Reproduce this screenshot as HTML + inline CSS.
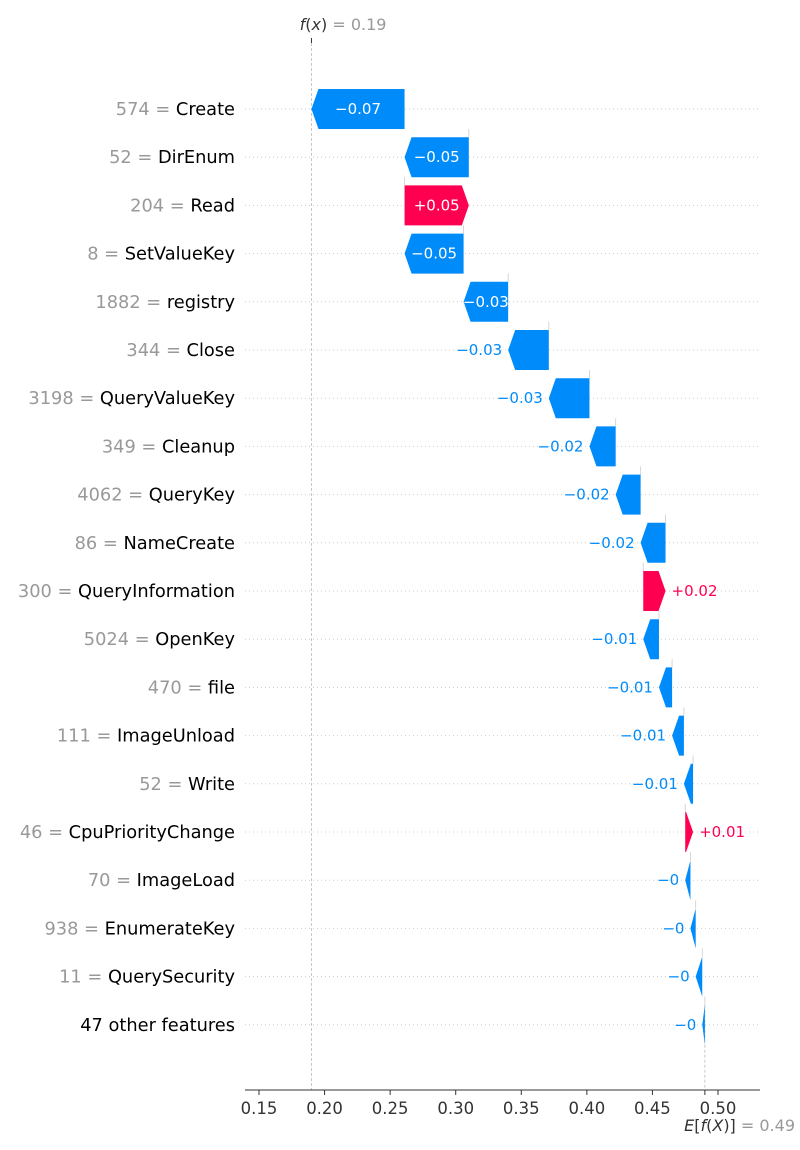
<!DOCTYPE html>
<html><head><meta charset="utf-8"><style>
body{margin:0;background:#fff;}
svg{display:block;font-family:"DejaVu Sans","Liberation Sans",sans-serif;}
</style></head><body>
<svg id="chart" width="800" height="1150" viewBox="0 0 800 1150"></svg>
<script>
const featureValues = ["574","52","204","8","1882","344","3198","349","4062","86","300","5024","470","111","52","46","70","938","11",""];
const featureNames = ["Create","DirEnum","Read","SetValueKey","registry","Close","QueryValueKey","Cleanup","QueryKey","NameCreate","QueryInformation","OpenKey","file","ImageUnload","Write","CpuPriorityChange","ImageLoad","EnumerateKey","QuerySecurity","47 other features"];
const shapValues = [-0.071,-0.049,0.049,-0.045,-0.034,-0.031,-0.031,-0.02,-0.019,-0.019,0.017,-0.012,-0.01,-0.009,-0.007,0.006,-0.004,-0.004,-0.005,-0.002];
const valueLabels = ["\u22120.07","\u22120.05","+0.05","\u22120.05","\u22120.03","\u22120.03","\u22120.03","\u22120.02","\u22120.02","\u22120.02","+0.02","\u22120.01","\u22120.01","\u22120.01","\u22120.01","+0.01","\u22120","\u22120","\u22120","\u22120"];
const baseValue = 0.49;
const fxValue = 0.19;
const xTicks = [0.15,0.20,0.25,0.30,0.35,0.40,0.45,0.50];

const svg = document.getElementById('chart');
const NS = 'http://www.w3.org/2000/svg';
const X = v => 259 + (v - 0.15) * 1311.4;
const Y = i => 109 + i * 48.2;
function mk(tag, attrs, parent){const e=document.createElementNS(NS,tag);for(const k in attrs)e.setAttribute(k,attrs[k]);(parent||svg).appendChild(e);return e;}

featureNames.forEach((n,i)=>{
  const g = mk('line',{x1:245,x2:760,y1:Y(i),y2:Y(i),stroke:'#ccc','stroke-width':1,'stroke-dasharray':'1,3'});
  
  
});
const fxl = mk('line',{x1:X(fxValue),x2:X(fxValue),y1:38,y2:1090,stroke:'#bbb','stroke-width':0.8,'stroke-dasharray':'3,2'});


const el = mk('line',{x1:X(baseValue),x2:X(baseValue),y1:Y(19)-20,y2:1090,stroke:'#bbb','stroke-width':0.8,'stroke-dasharray':'3,2'});



const n = shapValues.length;
let cur = baseValue;
const starts = new Array(n), ends = new Array(n);
for(let i=n-1;i>=0;i--){starts[i]=cur;cur+=shapValues[i];ends[i]=cur;}

for(let i=0;i<n;i++){
  const s=X(starts[i]), e=X(ends[i]), y=Y(i), h=20;
  const pos = shapValues[i]>0;
  const w=Math.abs(e-s), hl=Math.min(7,w);
  const dir = pos?1:-1;
  const pts = [[s,y-h],[e-dir*hl,y-h],[e,y],[e-dir*hl,y+h],[s,y+h]].map(p=>p.join(',')).join(' ');
  const bar = mk('polygon',{points:pts,fill:pos?'#ff0051':'#008bfb'});
  
  
  if(i>0){
    const c = mk('line',{x1:s,x2:s,y1:y-h,y2:Y(i-1)+h,stroke:'#ccc','stroke-width':0.8});
    
    
  }
  let t;
  if(w>44){
    t = mk('text',{x:(s+e)/2,y:y+5,'text-anchor':'middle','font-size':15,fill:'#fff'});
  } else if(pos){
    t = mk('text',{x:Math.max(s,e)+6,y:y+5,'text-anchor':'start','font-size':15,fill:'#ff0051'});
  } else {
    t = mk('text',{x:Math.min(s,e)-6,y:y+5,'text-anchor':'end','font-size':15,fill:'#008bfb'});
  }
  t.textContent = valueLabels[i];
  
  
  const fl = mk('text',{x:235,y:y+6,'text-anchor':'end','font-size':17.8,fill:'#000'});
  
  
  if(featureValues[i]){
    const ts = mk('tspan',{fill:'#999'},fl); ts.textContent = featureValues[i]+' = ';
  }
  const tn = mk('tspan',{},fl); tn.textContent = featureNames[i];
}

const ax = mk('line',{x1:245,x2:760,y1:1090,y2:1090,stroke:'#333','stroke-width':1});


xTicks.forEach(v=>{
  const tk = mk('line',{x1:X(v),x2:X(v),y1:1090,y2:1095,stroke:'#333','stroke-width':1});
  
  
  const tl = mk('text',{x:X(v),y:1114,'text-anchor':'middle','font-size':16.5,fill:'#333'});
  tl.textContent = v.toFixed(2);
  
  
});
const tt = mk('line',{x1:X(fxValue),x2:X(fxValue),y1:38,y2:43,stroke:'#333','stroke-width':1});


const fxt = mk('text',{x:X(fxValue)+75,y:30,'text-anchor':'end','font-size':16,fill:'#333'});


fxt.innerHTML = '<tspan font-style="italic">f</tspan>(<tspan font-style="italic">x</tspan>)<tspan fill="#999"> = 0.19</tspan>';
const bt = mk('line',{x1:X(baseValue),x2:X(baseValue),y1:1090,y2:1095,stroke:'#333','stroke-width':1});


const et = mk('text',{x:795,y:1131,'text-anchor':'end','font-size':16,fill:'#333'});


et.innerHTML = '<tspan font-style="italic">E</tspan>[<tspan font-style="italic">f</tspan>(<tspan font-style="italic">X</tspan>)]<tspan fill="#999"> = 0.49</tspan>';
</script>
</body></html>
